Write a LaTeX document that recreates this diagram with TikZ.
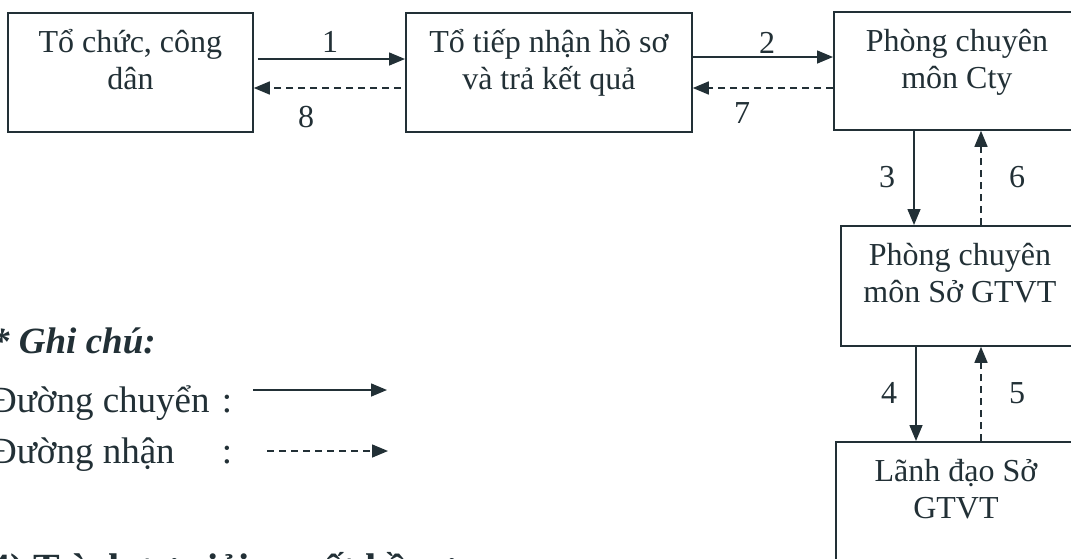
\documentclass[tikz,border=0pt]{standalone}
\usepackage{fontspec}
\setmainfont{Liberation Serif}
\usetikzlibrary{arrows.meta,calc}
\definecolor{ink}{RGB}{34,48,54}
\newcommand\boxtext[3]{\parbox[c][#2pt][t]{#1pt}{\centering\rule{0pt}{40pt}#3}}
\begin{document}
\begin{tikzpicture}[x=1pt,y=-1pt,
  box/.style={draw=ink, line width=1.8pt, inner sep=0pt, anchor=north west, text=ink, font=\fontsize{32}{37}\selectfont},
  conn/.style={draw=ink, line width=1.5pt, -{Triangle[length=16pt,width=13pt]}},
  back/.style={conn, dash pattern=on 7pt off 5pt},
  num/.style={text=ink, inner sep=0pt, font=\fontsize{32}{37}\selectfont},
  legend/.style={text=ink, inner sep=0pt, font=\fontsize{37}{43}\selectfont}]
\useasboundingbox (0,0) rectangle (1071,558);
\clip (0,0) rectangle (1071,558);
\fill[white] (0,0) rectangle (1071,558);

% boxes
\node[box] (b1) at (7,12) {\boxtext{245}{119}{Tổ chức, công\\dân}};
\node[box] (b2) at (405,12) {\boxtext{286}{119}{Tổ tiếp nhận hồ sơ\\và trả kết quả}};
\node[box] (b3) at (833,11) {\boxtext{246}{118}{Phòng chuyên\\môn Cty}};
\node[box] (b4) at (840,225) {\boxtext{238}{120}{Phòng chuyên\\môn Sở GTVT}};
\node[box] (b5) at (835,441) {\boxtext{240}{130}{Lãnh đạo Sở\\GTVT}};

% horizontal connectors
\draw[conn] ($(b1.north east)+(4,47)$) coordinate (a1) -- (a1 -| b2.west);
\draw[back] ($(b2.north west)+(-4,76)$) coordinate (a8) -- (a8 -| b1.east);
\draw[conn] ($(b2.north east)+(0,45)$) coordinate (a2) -- (a2 -| b3.west);
\draw[back] ($(b3.north west)+(0,77)$) coordinate (a7) -- (a7 -| b2.east);

% vertical connectors
\coordinate (c3) at (914,0);
\coordinate (c4) at (916,0);
\coordinate (c6) at (981,0);
\draw[conn] (b3.south -| c3) -- (b4.north -| c3);
\draw[back] (b4.north -| c6) -- (b3.south -| c6);
\draw[conn] (b4.south -| c4) -- (b5.north -| c4);
\draw[back] (b5.north -| c6) -- (b4.south -| c6);

% labels
\node[num] (n1) at (330,42) {1};
\node[num] (n8) at (306,117) {8};
\node[num] (n2) at (767,43) {2};
\node[num] (n7) at (742,113) {7};
\node[num] (n3) at (887,177) {3};
\node[num] (n6) at (1017,177) {6};
\node[num] (n4) at (889,393) {4};
\node[num] (n5) at (1017,393) {5};

% legend
\node[legend, font=\fontsize{37}{43}\bfseries\itshape\selectfont, anchor=base west] (gc) at (-9,353) {* Ghi chú:};
\node[legend, anchor=base west] (lc) at (-10,412) {Đường chuyển};
\node[legend, anchor=base] (lcc) at (227,412) {:};
\node[legend, anchor=base west] (ln) at (-10,463) {Đường nhận};
\node[legend, anchor=base] (lnc) at (227,463) {:};
\coordinate (ls1) at (253,390);
\coordinate (ls2) at (387,390);
\coordinate (ld1) at (267,451);
\coordinate (ld2) at (388,451);
\draw[conn] (ls1) -- (ls2);
\draw[back] (ld1) -- (ld2);

\node[legend, font=\fontsize{40}{46}\bfseries\selectfont, anchor=base west] (ts) at (-10,581) {4) Trình tự giải quyết hồ sơ:};
\end{tikzpicture}
\end{document}
